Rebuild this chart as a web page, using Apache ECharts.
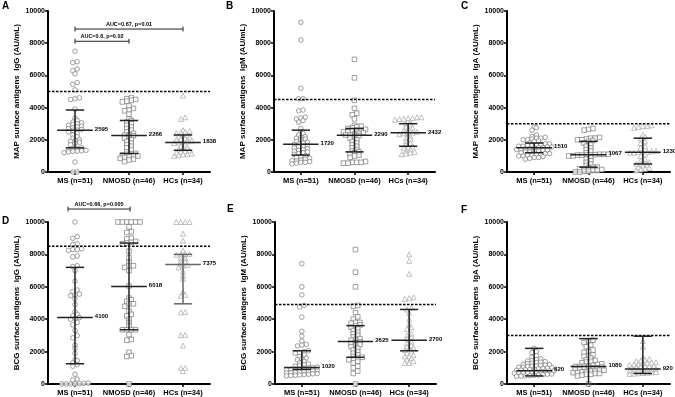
<!DOCTYPE html>
<html>
<head>
<meta charset="utf-8">
<script src="https://cdn.jsdelivr.net/npm/echarts@6/dist/echarts.min.js"></script>
<style>
  html, body { margin: 0; padding: 0; background: #fff; }
  #chart { width: 675px; height: 397px; }
</style>
</head>
<body>
<div id="chart"></div>
<script>
const groups = ["MS (n=51)", "NMOSD (n=46)", "HCs (n=34)"];
const panelLetters = ["A", "B", "C", "D", "E", "F"];
const yNames = [
  "MAP surface antigens  IgG (AU/mL)",
  "MAP surface antigens  IgM (AU/mL)",
  "MAP surface antigens  IgA (AU/mL)",
  "BCG surface antigens  IgG (AU/mL)",
  "BCG surface antigens  IgM (AU/mL)",
  "BCG surface antigens  IgA (AU/mL)",
];
const cutoffs = [5000, 4500, 3000, 8500, 4900, 3000];

// A: MAP IgG
const mapIgG_MS = [7500, 6850, 6800, 6400, 6300, 6100, 5550, 5450, 5100, 4600, 4550, 4500, 3900, 3350, 3200, 3100, 3050, 3000, 2950, 2900, 2850, 2800, 2750, 2700, 2650, 2600, 2595, 2500, 2400, 2300, 2200, 2100, 2000, 1950, 1900, 1850, 1800, 1700, 1500, 1480, 1450, 1400, 1350, 1320, 1300, 1280, 1250, 1200, 620, 0, 0];
const mapIgG_NMOSD = [4600, 4550, 4500, 4450, 4400, 4350, 4100, 3950, 3850, 3800, 3600, 3300, 3200, 3100, 3000, 2900, 2800, 2700, 2600, 2500, 2400, 2300, 2280, 2250, 2200, 2100, 2000, 1900, 1800, 1700, 1600, 1500, 1400, 1250, 1150, 1100, 1100, 1050, 1000, 1000, 950, 900, 850, 800, 750, 650];
const mapIgG_HCs = [4750, 3400, 3300, 2600, 2550, 2500, 2450, 2400, 2300, 2250, 2200, 2150, 2100, 2050, 2000, 1950, 1900, 1850, 1830, 1800, 1700, 1600, 1500, 1450, 1400, 1350, 1300, 1250, 1200, 1150, 1100, 1100, 1050, 1000];

// B: MAP IgM
const mapIgM_MS = [9300, 8200, 5200, 4550, 4550, 3850, 3800, 3400, 3350, 3300, 3200, 3100, 2700, 2500, 2400, 2300, 2200, 2150, 2100, 2050, 2000, 1900, 1850, 1800, 1750, 1720, 1650, 1600, 1550, 1500, 1450, 1400, 1350, 1300, 1250, 1200, 1150, 1100, 1000, 950, 900, 850, 800, 750, 700, 700, 650, 600, 600, 550, 500];
const mapIgM_NMOSD = [7000, 5850, 4450, 3950, 3650, 3550, 3300, 2900, 2850, 2800, 2750, 2700, 2650, 2600, 2600, 2550, 2500, 2500, 2450, 2400, 2350, 2300, 2300, 2250, 2150, 2100, 2000, 1900, 1800, 1700, 1600, 1500, 1400, 1300, 1250, 1200, 1100, 1050, 1000, 900, 650, 600, 600, 600, 550, 550];
const mapIgM_HCs = [3400, 3400, 3350, 3350, 3300, 3300, 3250, 3100, 3000, 2950, 2800, 2750, 2700, 2600, 2500, 2450, 2420, 2400, 2350, 2200, 2100, 2050, 1900, 1800, 1700, 1600, 1550, 1500, 1400, 1300, 1250, 1200, 1150, 1100];

// C: MAP IgA
const mapIgA_MS = [2800, 2750, 2600, 2300, 2200, 2150, 2100, 2100, 2050, 2000, 2000, 1950, 1900, 1800, 1750, 1750, 1700, 1700, 1650, 1650, 1600, 1600, 1550, 1550, 1520, 1510, 1500, 1450, 1450, 1400, 1400, 1350, 1350, 1300, 1300, 1250, 1250, 1200, 1150, 1150, 1100, 1100, 1050, 1050, 1000, 1000, 950, 900, 900, 850, 800];
const mapIgA_NMOSD = [2700, 2650, 2600, 2150, 2100, 2100, 2050, 2000, 2000, 1950, 1900, 1800, 1700, 1600, 1500, 1400, 1300, 1200, 1100, 1100, 1100, 1080, 1070, 1060, 1050, 1050, 1000, 1000, 900, 800, 700, 600, 500, 400, 300, 300, 250, 200, 200, 150, 100, 100, 50, 50, 0, 0];
const mapIgA_HCs = [2900, 2850, 2850, 2800, 2750, 2300, 2200, 2100, 1900, 1800, 1600, 1500, 1300, 1300, 1250, 1250, 1230, 1200, 1200, 1100, 1000, 800, 700, 600, 550, 500, 500, 450, 400, 300, 250, 200, 150, 100];

// D: BCG IgG
const bcgIgG_MS = [10000, 9100, 9000, 8650, 8600, 8350, 8300, 8300, 8250, 7900, 7850, 7300, 7250, 7000, 6350, 5800, 5700, 5550, 5500, 5450, 5250, 4900, 4450, 4300, 4200, 4100, 4050, 4000, 3800, 3650, 3300, 3000, 2850, 2400, 2200, 1900, 1500, 1450, 1300, 1200, 1100, 600, 300, 250, 60, 40, 20, 0, 0, 0, 0];
const bcgIgG_NMOSD = [10000, 10000, 10000, 10000, 10000, 10000, 9700, 9400, 9350, 9000, 8950, 8800, 8750, 8700, 8650, 8200, 7800, 7500, 7300, 7300, 7200, 7000, 6050, 5300, 5200, 5100, 4950, 4950, 4800, 4500, 4300, 4200, 4000, 3800, 3600, 3350, 3350, 3350, 3350, 3050, 2750, 2700, 1950, 1750, 1700, 0];
const bcgIgG_HCs = [10000, 10000, 10000, 10000, 9280, 8850, 8230, 8020, 8020, 8000, 7980, 7780, 7780, 7750, 7580, 7560, 7400, 7350, 7300, 7200, 6950, 6700, 6500, 5670, 5510, 5450, 4440, 4420, 3040, 3020, 2370, 1000, 990, 800];

// E: BCG IgM
const bcgIgM_MS = [7430, 6000, 5500, 4850, 4750, 4130, 3250, 2950, 2650, 2450, 2400, 2350, 2050, 2000, 1950, 1900, 1800, 1700, 1600, 1550, 1500, 1400, 1300, 1200, 1100, 1020, 1000, 980, 950, 920, 900, 880, 850, 820, 800, 780, 750, 720, 700, 680, 650, 630, 600, 580, 560, 540, 520, 500, 1250, 1150, 1050];
const bcgIgM_NMOSD = [8300, 6900, 6000, 4850, 4800, 4400, 4150, 4000, 3800, 3800, 3750, 3650, 3600, 3500, 3400, 3300, 3200, 3100, 3000, 2900, 2800, 2750, 2700, 2600, 2550, 2500, 2450, 2400, 2300, 2200, 2100, 2000, 1900, 1800, 1700, 1650, 1600, 1550, 1500, 1400, 1300, 1100, 1000, 800, 650, 0];
const bcgIgM_HCs = [8000, 7600, 6800, 5350, 5300, 5250, 4700, 4600, 4400, 4000, 3700, 3500, 3400, 3100, 3000, 2900, 2800, 2600, 2500, 2400, 2300, 2250, 2200, 2100, 2050, 1900, 1800, 1700, 1700, 1600, 1500, 1400, 1300, 1300];

// F: BCG IgA
const bcgIgA_MS = [2200, 2000, 1950, 1750, 1650, 1550, 1500, 1450, 1420, 1380, 1350, 1320, 1280, 1250, 1220, 1190, 1170, 1150, 1120, 1100, 1080, 1050, 1030, 1000, 980, 960, 940, 920, 900, 880, 860, 840, 820, 810, 790, 770, 750, 730, 710, 700, 680, 660, 620, 600, 580, 560, 540, 520, 500, 490, 470];
const bcgIgA_NMOSD = [2700, 2650, 2550, 2400, 2300, 2100, 2000, 1950, 1800, 1750, 1700, 1600, 1500, 1450, 1400, 1350, 1300, 1250, 1200, 1150, 1100, 1100, 1080, 1080, 1050, 1000, 1000, 950, 950, 900, 900, 850, 850, 800, 800, 750, 750, 700, 700, 650, 650, 600, 600, 550, 500, 0];
const bcgIgA_HCs = [2650, 2300, 1600, 1550, 1500, 1450, 1400, 1350, 1320, 1300, 1280, 1250, 1200, 1180, 1120, 1100, 1080, 1050, 1020, 1000, 940, 920, 900, 880, 860, 840, 820, 740, 720, 700, 680, 660, 640, 620];

// median and error bar ends (low / high) per panel, per group
const medians = [[2595, 2266, 1838], [1720, 2290, 2432], [1510, 1067, 1230], [4100, 6018, 7375], [1020, 2625, 2700], [820, 1080, 920]];
const lows = [[1500, 1150, 1350], [1050, 1250, 1600], [1200, 300, 500], [1250, 3350, 4950], [900, 1650, 2050], [500, 0, 650]];
const highs = [[3850, 3200, 2300], [2600, 2700, 3000], [1800, 1900, 2100], [7200, 8700, 8000], [2050, 3600, 4600], [2200, 2800, 2950]];

// AUC comparisons: panel, from group pos, to group pos, level
const aucPanels = [0, 0, 3];
const aucFrom = [0.5, 0.5, 0.37];
const aucTo = [2.5, 1.5, 1.52];
const aucLevel = [8880, 8120, 10800];
const aucText = ["AUC=0.67, p=0.01", "AUC=0.6, p=0.02", "AUC=0.66, p=0.005"];

const panelData = [
  [mapIgG_MS, mapIgG_NMOSD, mapIgG_HCs],
  [mapIgM_MS, mapIgM_NMOSD, mapIgM_HCs],
  [mapIgA_MS, mapIgA_NMOSD, mapIgA_HCs],
  [bcgIgG_MS, bcgIgG_NMOSD, bcgIgG_HCs],
  [bcgIgM_MS, bcgIgM_NMOSD, bcgIgM_HCs],
  [bcgIgA_MS, bcgIgA_NMOSD, bcgIgA_HCs],
];

const FONT = 'Arial, "Liberation Sans", sans-serif';
const grids = [
  { left: 48, top: 11, width: 162, height: 161 },
  { left: 274, top: 11, width: 161, height: 161 },
  { left: 507, top: 11, width: 163, height: 161 },
  { left: 48, top: 222, width: 162, height: 162 },
  { left: 275, top: 222, width: 161, height: 162 },
  { left: 507, top: 222, width: 163, height: 162 },
];
const letterPos = [[2, 1], [226, 1], [461, 1], [2, 216], [227, 204], [461, 205]];
const symbols = ["circle", "rect", "triangle"];
const strokeColors = ["#7a7a7a", "#7a7a7a", "#a8a8a8"];

// dot-plot layout: values that sit closer than a row height go side by side
function rowsLayout(values, center, g) {
  const pxY = g.height / 10000, pxX = g.width / 3;
  const rowPx = 2.8, gapPx = 4.4;
  const order = values.map((v, i) => ({ v, i })).sort((a, b) => a.v - b.v);
  const out = [];
  let k = 0;
  while (k < order.length) {
    const start = order[k].v;
    const row = [];
    while (k < order.length && (order[k].v - start) * pxY <= rowPx) row.push(order[k++]);
    row.forEach((p, j) => {
      const off = (j - (row.length - 1) / 2) * gapPx;
      out[p.i] = [center + off / pxX, p.v];
    });
  }
  return out;
}

const option = {
  animation: false,
  backgroundColor: "#fff",
  title: panelLetters.map((t, i) => ({
    text: t, left: letterPos[i][0], top: letterPos[i][1], padding: 0,
    textStyle: { fontSize: 10, fontWeight: "bold", fontFamily: FONT, color: "#000" },
  })),
  grid: grids,
  xAxis: grids.map((g, i) => ({
    type: "value", gridIndex: i, min: 0, max: 3, interval: 0.5,
    axisLine: { lineStyle: { color: "#000", width: 2 } },
    axisTick: { customValues: [0.5, 1.5, 2.5], length: 3, lineStyle: { color: "#000", width: 1.5 } },
    axisLabel: {
      customValues: [0.5, 1.5, 2.5], margin: 5,
      formatter: (v) => groups[Math.floor(v)] || "",
      fontSize: 7.5, fontWeight: "bold", fontFamily: FONT, color: "#000",
    },
    splitLine: { show: false },
  })),
  yAxis: grids.map((g, i) => ({
    type: "value", gridIndex: i, min: 0, max: 10000, interval: 2000,
    name: yNames[i], nameLocation: "middle", nameGap: 27,
    nameTextStyle: { fontSize: 8, fontWeight: "bold", fontFamily: FONT, color: "#000" },
    axisLine: { show: true, lineStyle: { color: "#000", width: 2 } },
    axisTick: { show: true, length: 3, lineStyle: { color: "#000", width: 1.5 } },
    axisLabel: {
      fontSize: 7, fontWeight: "bold", fontFamily: FONT, color: "#000", margin: 3,
      formatter: (v) => String(v),
    },
    splitLine: { show: false },
  })),
  series: [],
};

panelData.forEach((groupsVals, p) => {
  groupsVals.forEach((vals, k) => {
    option.series.push({
      type: "scatter", xAxisIndex: p, yAxisIndex: p, silent: true, z: 2,
      symbol: symbols[k], symbolSize: k === 2 ? 5 : 4.6,
      itemStyle: { color: "#fff", borderColor: strokeColors[k], borderWidth: 0.9 },
      data: rowsLayout(vals, k + 0.5, grids[p]),
    });
  });
  // cutoff line
  option.series.push({
    type: "line", xAxisIndex: p, yAxisIndex: p, silent: true, z: 3,
    symbol: "none", data: [[0, cutoffs[p]], [3, cutoffs[p]]],
    lineStyle: { color: "#000", width: 1.5, type: [2.5, 1.5] },
  });
  // median + error bars + median labels
  const barColor = p === 3 ? ["#222", "#222", "#666"] : ["#222", "#222", "#222"];
  option.series.push({
    type: "custom", xAxisIndex: p, yAxisIndex: p, silent: true, z: 4,
    data: medians[p].map((m, k) => [k, m, lows[p][k], highs[p][k]]),
    encode: { x: 0, y: 1 },
    renderItem: (params, api) => {
      const c = api.value(0) + 0.5;
      const med = api.value(1), lo = api.value(2), hi = api.value(3);
      const stroke = { stroke: barColor[params.dataIndex], lineWidth: 1.5 };
      const seg = (a, b) => ({ type: "line", shape: { x1: a[0], y1: a[1], x2: b[0], y2: b[1] }, style: stroke });
      const mR = api.coord([c + 0.33, med]);
      return {
        type: "group",
        children: [
          seg(api.coord([c - 0.33, med]), mR),
          seg(api.coord([c, lo]), api.coord([c, hi])),
          seg(api.coord([c - 0.17, lo]), api.coord([c + 0.17, lo])),
          seg(api.coord([c - 0.17, hi]), api.coord([c + 0.17, hi])),
          {
            type: "text",
            style: {
              x: mR[0] + 2, y: mR[1] - 1, text: String(med), fill: "#000",
              font: "bold 6px " + FONT, align: "left", verticalAlign: "middle",
            },
          },
        ],
      };
    },
  });
});

// AUC brackets
aucPanels.forEach((p, i) => {
  option.series.push({
    type: "custom", xAxisIndex: p, yAxisIndex: p, silent: true, z: 5, clip: false,
    data: [[aucFrom[i], aucTo[i], aucLevel[i]]],
    encode: { x: [0, 1], y: 2 },
    renderItem: (params, api) => {
      const a = api.coord([api.value(0), api.value(2)]);
      const b = api.coord([api.value(1), api.value(2)]);
      const st = { stroke: "#222", lineWidth: 1 };
      return {
        type: "group",
        children: [
          { type: "line", shape: { x1: a[0], y1: a[1], x2: b[0], y2: b[1] }, style: st },
          { type: "line", shape: { x1: a[0], y1: a[1] - 2.5, x2: a[0], y2: a[1] + 2.5 }, style: st },
          { type: "line", shape: { x1: b[0], y1: b[1] - 2.5, x2: b[0], y2: b[1] + 2.5 }, style: st },
          {
            type: "text",
            style: {
              x: (a[0] + b[0]) / 2, y: a[1] - 1.5, text: aucText[i], fill: "#000",
              font: "bold 5.5px " + FONT, align: "center", verticalAlign: "bottom",
            },
          },
        ],
      };
    },
  });
});

const chart = echarts.init(document.getElementById("chart"));
chart.setOption(option);
window.addEventListener("resize", () => chart.resize());
</script>
</body>
</html>
